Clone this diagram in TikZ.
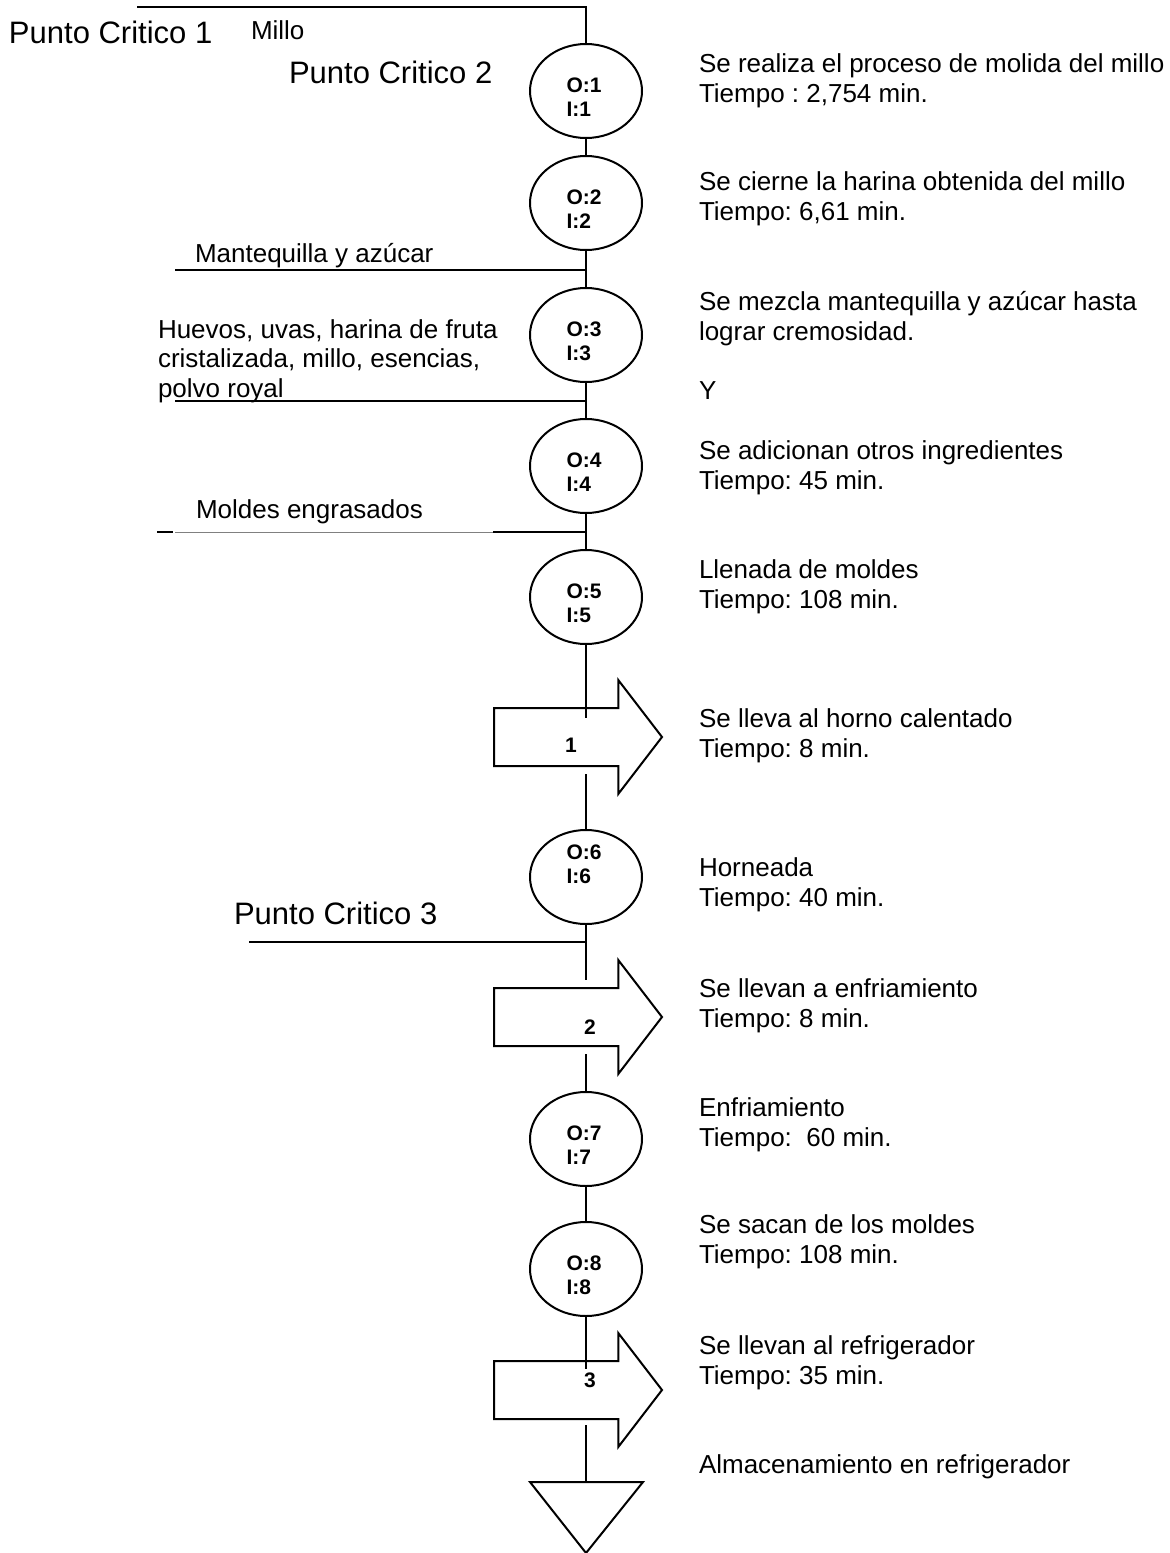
\documentclass[tikz,border=0pt]{standalone}
\usepackage{fontspec}
\setmainfont{Liberation Sans}
\usetikzlibrary{positioning, shapes.geometric, shapes.arrows}
\frenchspacing

\begin{document}
\begin{tikzpicture}[
  x=0.5pt, y=-0.5pt, line width=1pt, font=\fontsize{13}{14.75}\selectfont,
  opc/.style ={draw, ellipse, minimum width=56pt, minimum height=47pt, inner sep=0pt},
  olbl/.style={font=\bfseries\fontsize{10.5}{12}\selectfont, align=left, inner sep=0pt, xshift=-1pt},
  tra/.style ={draw, single arrow, single arrow head extend=14pt, single arrow tip angle=105,
               minimum width=56pt, minimum height=84pt, inner xsep=0pt, inner ysep=14pt, anchor=tail},
  nlbl/.style={font=\bfseries\fontsize{10.5}{12}\selectfont, inner sep=0pt},
  txt/.style ={anchor=base west, align=left, inner sep=0pt},
  pc/.style  ={anchor=base west, inner sep=0pt, font=\fontsize{15.5}{18}\selectfont}]
\useasboundingbox (0,0) rectangle (1169,1553);
% operaciones y transportes
\node[opc] (op1) at (586,91)   {};
\node[opc] (op2) at (586,203)  {};
\node[opc] (op3) at (586,335)  {};
\node[opc] (op4) at (586,466)  {};
\node[opc] (op5) at (586,597)  {};
\node[tra] (tr1) at (493,737)  {};
\node[opc] (op6) at (586,877)  {};
\node[tra] (tr2) at (493,1017) {};
\node[opc] (op7) at (586,1139) {};
\node[opc] (op8) at (586,1269) {};
\node[tra] (tr3) at (493,1390) {};
\node[olbl, yshift=-3pt]  (o1) at (op1) {O:1\\I:1};
\node[olbl, yshift=-3pt]  (o2) at (op2) {O:2\\I:2};
\node[olbl, yshift=-3pt]  (o3) at (op3) {O:3\\I:3};
\node[olbl, yshift=-3pt]  (o4) at (op4) {O:4\\I:4};
\node[olbl, yshift=-3pt]  (o5) at (op5) {O:5\\I:5};
\node[olbl, yshift=6.5pt] (o6) at (op6) {O:6\\I:6};
\node[olbl, yshift=-3pt]  (o7) at (op7) {O:7\\I:7};
\node[olbl, yshift=-3pt]  (o8) at (op8) {O:8\\I:8};
\node[nlbl] (n1) at (571,745)  {1};
\node[nlbl] (n2) at (590,1027) {2};
\node[nlbl] (n3) at (590,1380) {3};
% almacenamiento
\coordinate (alm) at (586,1482);
\draw (alm) -- (530,1482) -- (586,1553) -- (643,1482) -- cycle;
% linea principal
\coordinate (pm) at (137,7);
\coordinate (t1a) at (586,718);  \coordinate (t1b) at (586,774);
\coordinate (t2a) at (586,980);  \coordinate (t2b) at (586,1054);
\coordinate (t3a) at (586,1369); \coordinate (t3b) at (586,1425);
\draw (pm) -| (op1);
\draw (op1) -- (op2); \draw (op2) -- (op3); \draw (op3) -- (op4); \draw (op4) -- (op5);
\draw (op5) -- (t1a); \draw (t1b) -- (op6);
\draw (op6) -- (t2a); \draw (t2b) -- (op7);
\draw (op7) -- (op8);
\draw (op8) -- (t3a); \draw (t3b) -- (alm);
% entradas
\coordinate (ema) at (175,270);
\coordinate (ehu) at (175,401);
\coordinate (emo) at (157,532); \coordinate (emo2) at (173,532);
\coordinate (emo3) at (175,532); \coordinate (emo4) at (493,532);
\coordinate (epc) at (249,942);
\draw (ema) -- (ema -| op2);
\draw (ehu) -- (ehu -| op3);
\draw (emo) -- (emo2);
\draw[line width=0.5pt, gray] (emo3) -- (emo4);
\draw (emo4) -- (emo4 -| op4);
\draw (epc) -- (epc -| op6);
% textos izquierda (base = ultima linea)
\node[pc]  (pc1)   at (8,43)    {Punto Critico 1};
\node[txt] (millo) at (250,39)  {Millo};
\node[pc]  (pc2)   at (288,83)  {Punto Critico 2};
\node[txt] (mant)  at (194,262) {Mantequilla y azúcar};
\node[txt] (huev)  at (157,397) {Huevos, uvas, harina de fruta\\cristalizada, millo, esencias,\\polvo royal};
\node[txt] (mold)  at (195,518) {Moldes engrasados};
\node[pc]  (pc3)   at (233,924) {Punto Critico 3};
% textos derecha
\node[txt] (d1)  at (698,102)  {Se realiza el proceso de molida del millo\\Tiempo : 2,754 min.};
\node[txt] (d2)  at (698,220)  {Se cierne la harina obtenida del millo\\Tiempo: 6,61 min.};
\node[txt] (d3)  at (698,340)  {Se mezcla mantequilla y azúcar hasta\\lograr cremosidad.};
\node[txt] (d4)  at (698,399)  {Y};
\node[txt] (d5)  at (698,489)  {Se adicionan otros ingredientes\\Tiempo: 45 min.};
\node[txt] (d6)  at (698,608)  {Llenada de moldes\\Tiempo: 108 min.};
\node[txt] (d7)  at (698,757)  {Se lleva al horno calentado\\Tiempo: 8 min.};
\node[txt] (d8)  at (698,906)  {Horneada\\Tiempo: 40 min.};
\node[txt] (d9)  at (698,1027) {Se llevan a enfriamiento\\Tiempo: 8 min.};
\node[txt] (d10) at (698,1146) {Enfriamiento\\Tiempo:\ \ 60 min.};
\node[txt] (d11) at (698,1263) {Se sacan de los moldes\\Tiempo: 108 min.};
\node[txt] (d12) at (698,1384) {Se llevan al refrigerador\\Tiempo: 35 min.};
\node[txt] (d13) at (698,1473) {Almacenamiento en refrigerador};
\end{tikzpicture}
\end{document}
